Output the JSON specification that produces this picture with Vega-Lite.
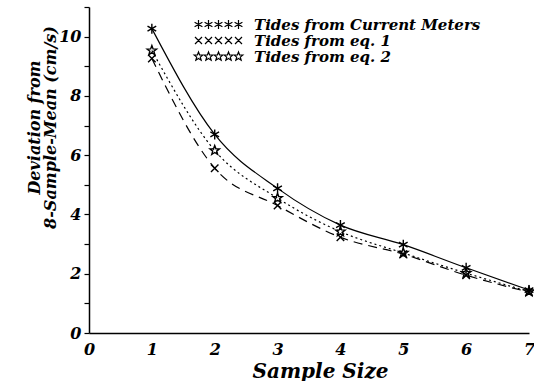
{
  "$schema": "https://vega.github.io/schema/vega-lite/v6.json",
  "width": 440,
  "height": 326,
  "autosize": "none",
  "padding": {"left": 89, "top": 7, "right": 5, "bottom": 48},
  "background": "white",
  "data": {
    "values": [
      {"series": "Tides from Current Meters", "n": 1, "dev": 10.27},
      {"series": "Tides from Current Meters", "n": 2, "dev": 6.7},
      {"series": "Tides from Current Meters", "n": 3, "dev": 4.88},
      {"series": "Tides from Current Meters", "n": 4, "dev": 3.64},
      {"series": "Tides from Current Meters", "n": 5, "dev": 2.98},
      {"series": "Tides from Current Meters", "n": 6, "dev": 2.2},
      {"series": "Tides from Current Meters", "n": 7, "dev": 1.45},
      {"series": "Tides from eq. 1", "n": 1, "dev": 9.26},
      {"series": "Tides from eq. 1", "n": 2, "dev": 5.56},
      {"series": "Tides from eq. 1", "n": 3, "dev": 4.3},
      {"series": "Tides from eq. 1", "n": 4, "dev": 3.23},
      {"series": "Tides from eq. 1", "n": 5, "dev": 2.66},
      {"series": "Tides from eq. 1", "n": 6, "dev": 1.95},
      {"series": "Tides from eq. 1", "n": 7, "dev": 1.38},
      {"series": "Tides from eq. 2", "n": 1, "dev": 9.53},
      {"series": "Tides from eq. 2", "n": 2, "dev": 6.16},
      {"series": "Tides from eq. 2", "n": 3, "dev": 4.55},
      {"series": "Tides from eq. 2", "n": 4, "dev": 3.42},
      {"series": "Tides from eq. 2", "n": 5, "dev": 2.7},
      {"series": "Tides from eq. 2", "n": 6, "dev": 2.02},
      {"series": "Tides from eq. 2", "n": 7, "dev": 1.4}
    ]
  },
  "encoding": {
    "x": {
      "field": "n", "type": "quantitative",
      "scale": {"domain": [0, 7], "nice": false},
      "axis": {
        "values": [0, 1, 2, 3, 4, 5, 6, 7],
        "title": "Sample Size",
        "ticks": false,
        "labelPadding": 8,
        "labelFontSize": 16,
        "titleFontSize": 20,
        "titleX": 231,
        "titleY": 44,
        "titleBaseline": "alphabetic",
        "labelFlush": false
      }
    },
    "y": {
      "field": "dev", "type": "quantitative",
      "scale": {"domain": [0, 11], "nice": false},
      "axis": {
        "values": [0, 1, 2, 3, 4, 5, 6, 7, 8, 9, 10, 11],
        "labelExpr": "datum.value % 2 == 0 && datum.value <= 10 ? datum.label : ''",
        "title": ["Deviation from", "8-Sample-Mean (cm/s)"],
        "tickSize": 5,
        "labelPadding": 3,
        "labelFontSize": 16,
        "titleFontSize": 16,
        "titleX": -55,
        "titleY": 120,
        "titleAngle": -90,
        "titleAlign": "center",
        "titleBaseline": "middle",
        "titleLineHeight": 16
      }
    }
  },
  "resolve": {"scale": {"shape": "independent"}, "legend": {"shape": "independent"}},
  "layer": [
    {
      "data": {"values": [{"n": 0}, {"n": 1}, {"n": 2}, {"n": 3}, {"n": 4}, {"n": 5}, {"n": 6}, {"n": 7}]},
      "mark": {"type": "rule", "color": "black", "strokeWidth": 1.3},
      "encoding": {
        "x": {"field": "n", "type": "quantitative"},
        "y": {"datum": 0},
        "y2": {"datum": 0.2}
      }
    },
    {
      "transform": [{"filter": "datum.series == 'Tides from Current Meters'"}],
      "mark": {"type": "line", "interpolate": "monotone", "color": "black", "strokeWidth": 1.2},
      "encoding": {}
    },
    {
      "transform": [{"filter": "datum.series == 'Tides from eq. 1'"}],
      "mark": {"type": "line", "interpolate": "monotone", "color": "black", "strokeWidth": 1.2, "strokeDash": [9, 6]},
      "encoding": {}
    },
    {
      "transform": [{"filter": "datum.series == 'Tides from eq. 2'"}],
      "mark": {"type": "line", "interpolate": "monotone", "color": "black", "strokeWidth": 1.2, "strokeDash": [2, 3]},
      "encoding": {}
    },
    {
      "mark": {"type": "point", "filled": false, "color": "black", "strokeWidth": 1.4, "size": 100, "opacity": 1},
      "encoding": {
        "shape": {
          "field": "series", "type": "nominal",
          "scale": {
            "domain": ["Tides from Current Meters", "Tides from eq. 1", "Tides from eq. 2"],
            "range": [
              "M0,-1L0,1M-0.87,-0.5L0.87,0.5M-0.87,0.5L0.87,-0.5",
              "M-0.75,-0.75L0.75,0.75M-0.75,0.75L0.75,-0.75",
              "M0,-1L0.24,-0.34L0.95,-0.31L0.4,0.13L0.59,0.81L0,0.42L-0.59,0.81L-0.4,0.13L-0.95,-0.31L-0.24,-0.34Z"
            ]
          },
          "legend": null
        }
      }
    },
    {
      "mark": {"type": "point", "filled": false, "color": "black", "strokeWidth": 1.2, "size": 100, "opacity": 0},
      "encoding": {
        "shape": {
          "field": "series", "type": "nominal",
          "scale": {
            "domain": ["Tides from Current Meters", "Tides from eq. 1", "Tides from eq. 2"],
            "range": [
              "M-4,-0.9L-4,0.9M-4.78,-0.45L-3.22,0.45M-4.78,0.45L-3.22,-0.45M-2,-0.9L-2,0.9M-2.78,-0.45L-1.22,0.45M-2.78,0.45L-1.22,-0.45M0,-0.9L0,0.9M-0.78,-0.45L0.78,0.45M-0.78,0.45L0.78,-0.45M2,-0.9L2,0.9M1.22,-0.45L2.78,0.45M1.22,0.45L2.78,-0.45M4,-0.9L4,0.9M3.22,-0.45L4.78,0.45M3.22,0.45L4.78,-0.45",
              "M-4.7,-0.7L-3.3,0.7M-4.7,0.7L-3.3,-0.7M-2.7,-0.7L-1.3,0.7M-2.7,0.7L-1.3,-0.7M-0.7,-0.7L0.7,0.7M-0.7,0.7L0.7,-0.7M1.3,-0.7L2.7,0.7M1.3,0.7L2.7,-0.7M3.3,-0.7L4.7,0.7M3.3,0.7L4.7,-0.7",
              "M-4,-0.9L-3.78,-0.31L-3.14,-0.28L-3.64,0.12L-3.47,0.73L-4,0.38L-4.53,0.73L-4.36,0.12L-4.86,-0.28L-4.22,-0.31ZM-2,-0.9L-1.78,-0.31L-1.14,-0.28L-1.64,0.12L-1.47,0.73L-2,0.38L-2.53,0.73L-2.36,0.12L-2.86,-0.28L-2.22,-0.31ZM0,-0.9L0.22,-0.31L0.86,-0.28L0.36,0.12L0.53,0.73L0,0.38L-0.53,0.73L-0.36,0.12L-0.86,-0.28L-0.22,-0.31ZM2,-0.9L2.22,-0.31L2.86,-0.28L2.36,0.12L2.53,0.73L2,0.38L1.47,0.73L1.64,0.12L1.14,-0.28L1.78,-0.31ZM4,-0.9L4.22,-0.31L4.86,-0.28L4.36,0.12L4.53,0.73L4,0.38L3.47,0.73L3.64,0.12L3.14,-0.28L3.78,-0.31Z"
            ]
          },
          "legend": {
            "title": null,
            "orient": "none",
            "legendX": 122,
            "legendY": 10,
            "padding": 0,
            "symbolSize": 100,
            "symbolOpacity": 1,
            "symbolStrokeColor": "black",
            "symbolStrokeWidth": 1.2,
            "symbolOffset": 0,
            "labelOffset": 28,
            "labelFont": "DejaVu Serif",
            "labelFontStyle": "italic",
            "labelFontWeight": "bold",
            "labelFontSize": 15,
            "labelColor": "black",
            "labelLimit": 400,
            "rowPadding": 0
          }
        }
      }
    }
  ],
  "config": {
    "view": {"stroke": null},
    "axis": {
      "grid": false,
      "domainColor": "black",
      "domainWidth": 1.5,
      "tickColor": "black",
      "tickWidth": 1.2,
      "labelColor": "black",
      "titleColor": "black",
      "labelFont": "DejaVu Serif",
      "labelFontStyle": "italic",
      "labelFontWeight": "bold",
      "titleFont": "DejaVu Serif",
      "titleFontStyle": "italic",
      "titleFontWeight": "bold"
    }
  }
}
